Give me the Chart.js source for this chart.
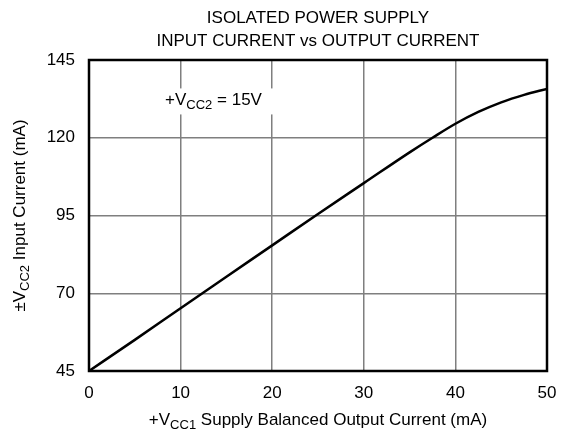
<!DOCTYPE html>
<html><head><meta charset="utf-8">
<script src="https://cdn.jsdelivr.net/npm/chart.js@4/dist/chart.umd.min.js"></script>
<style>html,body{margin:0;padding:0;background:#fff}</style>
</head><body>
<canvas id="c" width="571" height="437"></canvas>
<script>
const outputCurrent = [0, 5, 10, 15, 20, 25, 30, 35, 37.5, 40, 42.5, 45, 47.5, 50];
const inputCurrent  = [45, 55, 65.2, 75.3, 85.4, 95.5, 105.4, 115.3, 120, 124.5, 128.3, 131.4, 133.8, 135.7];
const yTicks = [45, 70, 95, 120, 145];
const xTicks = [0, 10, 20, 30, 40, 50];
const titleLines = ["ISOLATED POWER SUPPLY", "INPUT CURRENT vs OUTPUT CURRENT"];

const FONT = "'Liberation Sans', Arial, sans-serif";
const FS = 17;
const SFS = 13;

function drawSubText(ctx, parts, x, y, align) {
  let total = 0;
  const w = parts.map(p => { ctx.font = (p[1] ? SFS : FS) + "px " + FONT; const m = ctx.measureText(p[0]).width; total += m; return m; });
  let cx = align === 'center' ? x - total / 2 : x;
  parts.forEach((p, i) => {
    ctx.font = (p[1] ? SFS : FS) + "px " + FONT;
    ctx.fillText(p[0], cx, y + (p[1] ? 5 : 0));
    cx += w[i];
  });
}

const deco = {
  id: 'deco',
  afterDraw(chart) {
    const ctx = chart.ctx, a = chart.chartArea;
    ctx.save();
    ctx.strokeStyle = '#000'; ctx.lineWidth = 2.5;
    ctx.strokeRect(a.left, a.top, a.right - a.left, a.bottom - a.top);
    ctx.fillStyle = '#000';
    ctx.textBaseline = 'middle'; ctx.textAlign = 'left';
    ctx.font = FS + "px " + FONT;
    const cx = (a.left + a.right) / 2;
    titleLines.forEach((t, i) => {
      const w = ctx.measureText(t).width;
      ctx.fillText(t, cx - w / 2, 18 + i * 23.5);
    });
    const xs = chart.scales.x, ys = chart.scales.y;
    const ax = xs.getPixelForValue(8.3), ay = ys.getPixelForValue(132);
    ctx.fillStyle = '#fff';
    ctx.fillRect(ax - 6, ay - 12, 122, 26);
    ctx.fillStyle = '#000';
    drawSubText(ctx, [["+V", false], ["CC2", true], [" = 15V", false]], ax, ay, 'left');
    drawSubText(ctx, [["+V", false], ["CC1", true], [" Supply Balanced Output Current (mA)", false]], cx, 420, 'center');
    ctx.translate(20, (a.top + a.bottom) / 2);
    ctx.rotate(-Math.PI / 2);
    drawSubText(ctx, [["\u00B1V", false], ["CC2", true], [" Input Current (mA)", false]], 0, 0, 'center');
    ctx.restore();
  }
};

new Chart(document.getElementById('c'), {
  type: 'line',
  data: {
    datasets: [{
      data: outputCurrent.map((x, i) => ({ x, y: inputCurrent[i] })),
      borderColor: '#000', borderWidth: 2.5, pointRadius: 0,
      cubicInterpolationMode: 'monotone', fill: false
    }]
  },
  options: {
    responsive: false, animation: false, devicePixelRatio: 1,
    layout: { padding: { left: 0, top: 60, right: 24, bottom: 0 } },
    plugins: { legend: { display: false }, title: { display: false }, tooltip: { enabled: false } },
    scales: {
      x: {
        type: 'linear', min: 0, max: 50,
        afterBuildTicks: s => { s.ticks = xTicks.map(v => ({ value: v })); },
        afterFit: s => { s.height = 66; },
        grid: { color: '#7f7f7f', lineWidth: 1.5, drawTicks: false },
        border: { display: false },
        ticks: { color: '#000', font: { family: FONT, size: FS }, padding: 12, maxRotation: 0 }
      },
      y: {
        type: 'linear', min: 45, max: 145,
        afterBuildTicks: s => { s.ticks = yTicks.map(v => ({ value: v })); },
        afterFit: s => { s.width = 89; },
        grid: { color: '#7f7f7f', lineWidth: 1.5, drawTicks: false },
        border: { display: false },
        ticks: { color: '#000', font: { family: FONT, size: FS }, padding: 14 }
      }
    }
  },
  plugins: [deco]
});
</script>
</body></html>
